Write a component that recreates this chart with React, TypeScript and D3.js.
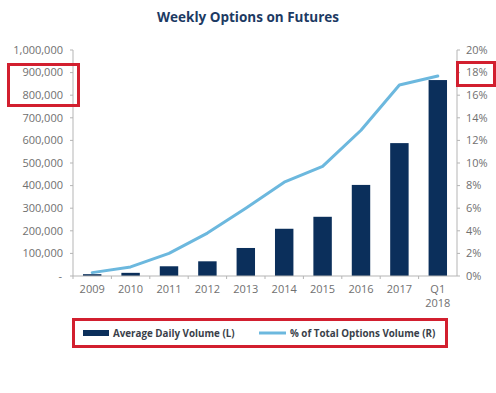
import React, { useEffect, useRef } from "react";
import * as d3 from "d3";

const categories = ["2009", "2010", "2011", "2012", "2013", "2014", "2015", "2016", "2017", "Q1\n2018"];
const volume = [8000, 14000, 43000, 65000, 124000, 209000, 262000, 403000, 588000, 867000];
const pctTotal = [0.3, 0.8, 2.0, 3.8, 6.0, 8.3, 9.7, 12.9, 16.9, 17.7];
const leftTicks = [0, 100000, 200000, 300000, 400000, 500000, 600000, 700000, 800000, 900000, 1000000];
const rightTicks = [0, 2, 4, 6, 8, 10, 12, 14, 16, 18, 20];

const NAVY = "#0b2f5b";
const LIGHT = "#6cb8de";
const GREY = "#707070";
const RED = "#d21f2f";
const FONT = "'Open Sans', sans-serif";

const App = () => {
  const svgRef = useRef<SVGSVGElement>(null);

  useEffect(() => {
    const svg = d3.select(svgRef.current);
    svg.selectAll("*").remove();

    const left = 73, right = 457, top = 50, bottom = 276;

    const x = d3.scaleBand().domain(categories).range([left, right]).paddingInner(0.52).paddingOuter(0.26);
    const yL = d3.scaleLinear().domain([0, 1000000]).range([bottom, top]);
    const yR = d3.scaleLinear().domain([0, 20]).range([bottom, top]);

    // title
    svg.append("text")
      .attr("x", 248).attr("y", 22)
      .attr("text-anchor", "middle")
      .attr("font-family", FONT).attr("font-weight", 700).attr("font-size", 13.5)
      .attr("fill", "#1c3a63")
      .text("Weekly Options on Futures");

    // bars
    svg.append("g").selectAll("rect")
      .data(volume)
      .enter()
      .append("rect")
      .attr("x", (d, i) => x(categories[i])!)
      .attr("width", x.bandwidth())
      .attr("y", (d) => yL(d))
      .attr("height", (d) => bottom - yL(d))
      .attr("fill", NAVY);

    // axis lines
    const axisColor = "#b5b5b5";
    svg.append("line").attr("x1", left).attr("x2", left).attr("y1", top).attr("y2", bottom).attr("stroke", axisColor);
    svg.append("line").attr("x1", right).attr("x2", right).attr("y1", top).attr("y2", bottom).attr("stroke", axisColor);
    svg.append("line").attr("x1", left).attr("x2", right).attr("y1", bottom).attr("y2", bottom).attr("stroke", axisColor);

    // left ticks
    const gl = svg.append("g");
    leftTicks.forEach((t) => {
      gl.append("line").attr("x1", left - 3).attr("x2", left).attr("y1", yL(t)).attr("y2", yL(t)).attr("stroke", axisColor);
      gl.append("text")
        .attr("x", t === 0 ? 62 : 63).attr("y", yL(t)).attr("dy", "0.35em")
        .attr("text-anchor", "end")
        .attr("font-family", FONT).attr("font-size", 11).attr("fill", GREY)
        .text(t === 0 ? "-" : d3.format(",")(t));
    });

    // right ticks
    const gr = svg.append("g");
    rightTicks.forEach((t) => {
      gr.append("line").attr("x1", right).attr("x2", right + 3).attr("y1", yR(t)).attr("y2", yR(t)).attr("stroke", axisColor);
      gr.append("text")
        .attr("x", 466).attr("y", yR(t)).attr("dy", "0.35em")
        .attr("font-family", FONT).attr("font-size", 11).attr("fill", GREY)
        .text(`${t}%`);
    });

    // bottom ticks at band boundaries
    const step = x.step();
    const gx = svg.append("g");
    categories.forEach((c, i) => {
      const bx = left + i * step;
      gx.append("line").attr("x1", bx).attr("x2", bx).attr("y1", bottom).attr("y2", bottom + 3).attr("stroke", axisColor);
      const lines = c.split("\n");
      lines.forEach((ln, j) => {
        gx.append("text")
          .attr("x", x(c)! + x.bandwidth() / 2).attr("y", 293 + j * 14)
          .attr("text-anchor", "middle")
          .attr("font-family", FONT).attr("font-size", 11).attr("fill", GREY)
          .text(ln);
      });
    });

    // line
    const line = d3.line<number>()
      .x((d, i) => x(categories[i])! + x.bandwidth() / 2)
      .y((d) => yR(d));
    svg.append("path")
      .datum(pctTotal)
      .attr("d", line)
      .attr("fill", "none")
      .attr("stroke", LIGHT)
      .attr("stroke-width", 3)
      .attr("stroke-linejoin", "round")
      .attr("stroke-linecap", "round");

    // legend
    const lg = svg.append("g");
    lg.append("rect").attr("x", 83).attr("y", 330).attr("width", 26).attr("height", 6).attr("fill", NAVY);
    lg.append("text").attr("x", 113).attr("y", 337)
      .attr("font-family", FONT).attr("font-weight", 700).attr("font-size", 9.8).attr("fill", "#3a3f4a")
      .text("Average Daily Volume (L)");
    lg.append("line").attr("x1", 259).attr("x2", 286).attr("y1", 333).attr("y2", 333).attr("stroke", LIGHT).attr("stroke-width", 3);
    lg.append("text").attr("x", 290).attr("y", 337)
      .attr("font-family", FONT).attr("font-weight", 700).attr("font-size", 9.8).attr("fill", "#3a3f4a")
      .text("% of Total Options Volume (R)");

    // red annotation boxes
    const boxes = [
      { x: 8.5, y: 64.5, w: 70, h: 41 },
      { x: 457.5, y: 62.5, w: 37, h: 23 },
      { x: 73.5, y: 319.5, w: 373, h: 27 },
    ];
    svg.append("g").selectAll("rect")
      .data(boxes)
      .enter()
      .append("rect")
      .attr("x", (d) => d.x).attr("y", (d) => d.y)
      .attr("width", (d) => d.w).attr("height", (d) => d.h)
      .attr("fill", "none").attr("stroke", RED).attr("stroke-width", 3);
  }, []);

  return (
    <svg
      ref={svgRef}
      width={496}
      height={393}
      style={{ position: "absolute", left: 0, top: 0, background: "#fff" }}
    />
  );
};

export default App;
